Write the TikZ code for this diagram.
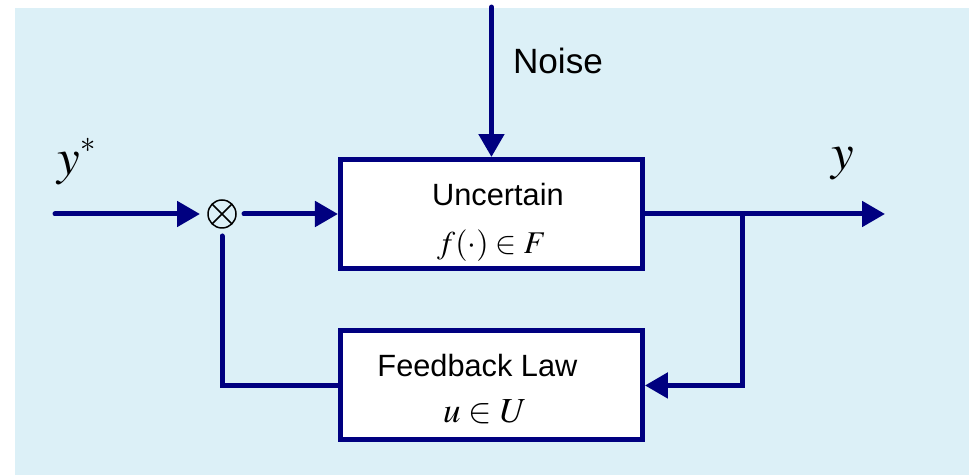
\documentclass[tikz,border=0pt]{standalone}
\usepackage{mathptmx}
\usepackage[no-math]{fontspec}
\setmainfont{Liberation Sans}
\usetikzlibrary{arrows.meta, positioning}
\usepackage{xcolor}
\definecolor{linecol}{RGB}{0,0,128}
\definecolor{bgcol}{RGB}{220,240,247}

\begin{document}
\begin{tikzpicture}[x=0.02cm,y=-0.02cm,node distance=3.43cm,on grid,auto]
    \tikzstyle{block}=[shape=rectangle,draw=linecol,line width=0.1cm,fill=white,minimum width=6.04cm,minimum height=2.18cm]
    \tikzstyle{mixer}=[shape=circle,draw=black,line width=0.03cm,minimum size=0.56cm,inner sep=0pt,outer sep=0.16cm,
        path picture={\draw[black,line width=0.03cm] (path picture bounding box.center) +(45:0.28cm) -- +(225:0.28cm)
        (path picture bounding box.center) +(135:0.28cm) -- +(-45:0.28cm);}]
    \tikzstyle{sig}=[draw=linecol,line width=0.1cm,line cap=round,-{Triangle[length=0.46cm,width=0.5cm]}]
    \tikzstyle{wire}=[draw=linecol,line width=0.1cm,line cap=round]

    \useasboundingbox (0,0) rectangle (969,475);
    \fill[bgcol] (15,8) rectangle (969,475);

    \node[mixer] (mix) at (222,214) {};
    \node[block, right=5.39cm of mix] (plant) {};
    \node[block, below of=plant] (fb) {};
    \node[above right=0.38cm and 0.13cm of plant, anchor=center, font=\fontsize{17.5}{20}\selectfont] (plantname) {Uncertain};
    \node[below=0.64cm of plant, anchor=center, font=\fontsize{18}{21}\selectfont] (plantset) {$f(\cdot)\in F$};
    \node[above left=0.39cm and 0.28cm of fb, anchor=center, font=\fontsize{17.5}{20}\selectfont] (fbname) {Feedback Law};
    \node[below left=0.53cm and 0.13cm of fb, anchor=center, font=\fontsize{20}{24}\selectfont] (fbset) {$u\in U$};

    \coordinate (in) at (55,214);
    \coordinate[above=3cm of plant.north] (noise);
    \coordinate (tap) at (742,214);
    \coordinate (out) at (885,214);

    \node[font=\fontsize{20}{24}\selectfont] (noisename) at (558,61) {Noise};
    \node[font=\fontsize{29}{34}\selectfont] (ref) at (77,162) {$y^{\raisebox{2pt}{$\scriptscriptstyle\ast$}}$};
    \node[font=\fontsize{29}{34}\selectfont] (outname) at (843,164) {$y$};

    \path[sig] (in) -- (mix);
    \path[sig] (mix) -- (plant);
    \path[sig] (noise) -- (plant.north);
    \path[sig] (plant) -- (out);
    \path[sig] (tap) |- (fb);
    \path[wire] (fb) -| (mix);
\end{tikzpicture}
\end{document}
